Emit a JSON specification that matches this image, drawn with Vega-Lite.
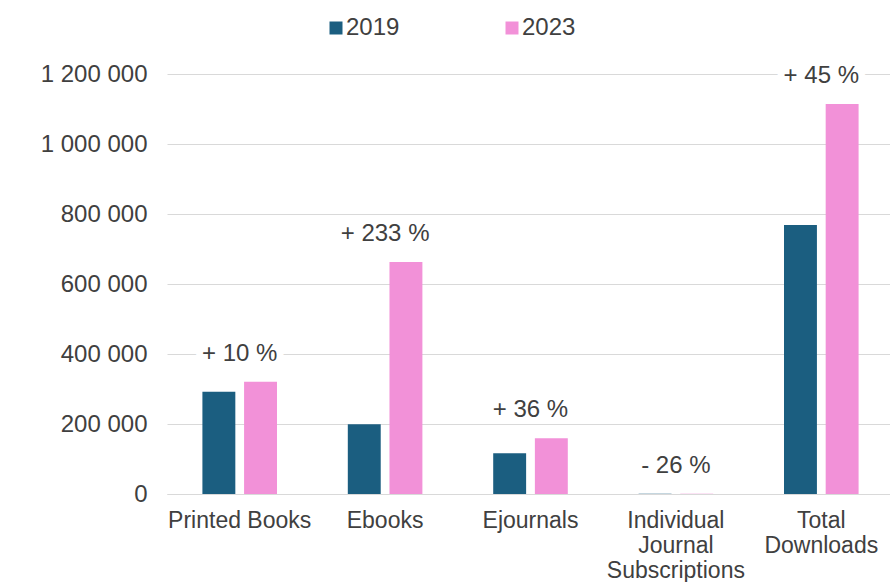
{
  "$schema": "https://vega.github.io/schema/vega-lite/v6.json",
  "width": 727,
  "height": 420,
  "autosize": {"type": "none"},
  "padding": {"left": 167, "top": 74, "right": 0, "bottom": 88},
  "background": "white",
  "config": {
    "view": {"stroke": null},
    "font": "Liberation Sans"
  },
  "data": {
    "values": [
      {"category": "Printed Books", "year": "2019", "value": 292300, "change": "+ 10 %"},
      {"category": "Printed Books", "year": "2023", "value": 320900, "change": "+ 10 %"},
      {"category": "Ebooks", "year": "2019", "value": 199100, "change": "+ 233 %"},
      {"category": "Ebooks", "year": "2023", "value": 663000, "change": "+ 233 %"},
      {"category": "Ejournals", "year": "2019", "value": 116300, "change": "+ 36 %"},
      {"category": "Ejournals", "year": "2023", "value": 159100, "change": "+ 36 %"},
      {"category": "Individual Journal Subscriptions", "year": "2019", "value": 500, "change": "- 26 %"},
      {"category": "Individual Journal Subscriptions", "year": "2023", "value": 370, "change": "- 26 %"},
      {"category": "Total Downloads", "year": "2019", "value": 768600, "change": "+ 45 %"},
      {"category": "Total Downloads", "year": "2023", "value": 1114300, "change": "+ 45 %"}
    ]
  },
  "encoding": {
    "x": {
      "field": "category",
      "type": "nominal",
      "sort": ["Printed Books", "Ebooks", "Ejournals", "Individual Journal Subscriptions", "Total Downloads"],
      "scale": {"paddingInner": 0.487, "paddingOuter": 0.2435},
      "axis": {
        "title": null,
        "labelAngle": 0,
        "labelFontSize": 23,
        "labelColor": "#404040",
        "labelPadding": 15,
        "labelLineHeight": 25,
        "labelLimit": 300,
        "labelOverlap": false,
        "ticks": false,
        "domain": true,
        "domainColor": "#d9d9d9",
        "domainWidth": 1,
        "grid": false,
        "labelExpr": "datum.label == 'Printed Books' ? datum.label : split(datum.label, ' ')"
      }
    }
  },
  "layer": [
    {
      "mark": {"type": "bar"},
      "encoding": {
        "xOffset": {"field": "year", "type": "nominal", "scale": {"paddingInner": 0.21}},
        "y": {
          "field": "value",
          "type": "quantitative",
          "scale": {"domain": [0, 1200000], "nice": false},
          "axis": {
            "title": null,
            "values": [0, 200000, 400000, 600000, 800000, 1000000, 1200000],
            "labelExpr": "replace(format(datum.value, ','), regexp(',', 'g'), ' ')",
            "labelFontSize": 24,
            "labelColor": "#404040",
            "labelPadding": 20,
            "ticks": false,
            "domain": false,
            "grid": true,
            "gridColor": "#d9d9d9",
            "gridWidth": 1
          }
        },
        "color": {
          "field": "year",
          "type": "nominal",
          "scale": {"domain": ["2019", "2023"], "range": ["#1b5e80", "#f291d8"]},
          "legend": {
            "title": null,
            "orient": "none",
            "legendX": 157,
            "legendY": -58,
            "direction": "horizontal",
            "symbolType": "square",
            "symbolSize": 169,
            "symbolStrokeWidth": 0,
            "labelFontSize": 24,
            "labelColor": "#404040",
            "labelOffset": -2,
            "columnPadding": 100,
            "padding": 0
          }
        }
      }
    },
    {
      "mark": {"type": "text", "fontSize": 24, "dy": -28, "baseline": "middle", "fill": "white", "stroke": "white", "strokeWidth": 14, "strokeJoin": "round"},
      "encoding": {
        "y": {"aggregate": "max", "field": "value", "type": "quantitative"},
        "text": {"field": "change", "type": "nominal"}
      }
    },
    {
      "mark": {"type": "text", "fontSize": 24, "dy": -28, "baseline": "middle", "fill": "#404040"},
      "encoding": {
        "y": {"aggregate": "max", "field": "value", "type": "quantitative"},
        "text": {"field": "change", "type": "nominal"}
      }
    }
  ]
}
